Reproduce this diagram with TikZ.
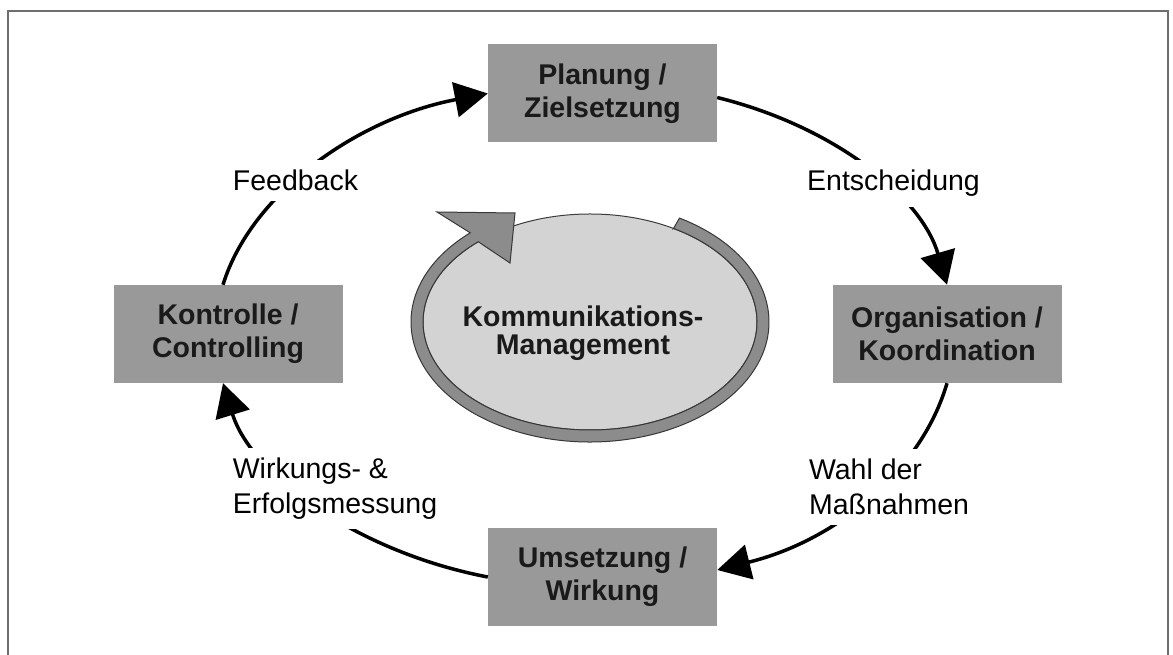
\documentclass[tikz,border=0pt]{standalone}
\usepackage{fontspec}
\setmainfont{Liberation Sans}
\usetikzlibrary{arrows.meta,calc}
\definecolor{boxgray}{RGB}{153,153,153}
\definecolor{ringgray}{RGB}{140,140,140}
\definecolor{ringline}{RGB}{55,55,55}
\definecolor{ellgray}{RGB}{211,211,211}
\definecolor{ellline}{RGB}{60,60,60}
\definecolor{framegray}{RGB}{110,110,110}
\definecolor{txt}{RGB}{26,26,26}
\begin{document}
\begin{tikzpicture}[x=1pt,y=1pt,
  stagebox/.style={fill=boxgray, minimum width=229pt, minimum height=98pt, inner sep=0pt,
    align=center, font=\fontsize{28.5}{33}\selectfont\bfseries, text=txt},
  cyclearrow/.style={line width=3.5pt, -{Triangle[length=33pt,width=35pt]}},
  steplabel/.style={fill=white, inner xsep=4pt, inner ysep=10pt,
    font=\fontsize{28.5}{35}\selectfont, text=black, align=left},
  ringstyle/.style={fill=ringgray, draw=ringline, line width=1pt, line join=miter},
  centertext/.style={align=center, font=\fontsize{28.5}{28.5}\selectfont\bfseries, text=txt}
]
\useasboundingbox (0,0) rectangle (1173,655);
\begin{scope}
  \clip (0,0) rectangle (1173,655);
  \draw[framegray, line width=2.5pt] (8,-10) -- (8,644) -- (1168,644) -- (1168,-10);
\end{scope}

% central ellipse and circular arrow
\coordinate (ec) at (590,333);
\draw[fill=ellgray, draw=ellline, line width=1pt] (ec) ellipse [x radius=167, y radius=108];
\draw[ringstyle] (673.5,426.53) -- (679.5,436.92)
  arc[start angle=60, end angle=-228, x radius=179, y radius=120]
  -- (437,443) -- (515,442) -- (510,392) -- (478.26,413.26)
  arc[start angle=-228, end angle=60, x radius=167, y radius=108] -- cycle;
\node[centertext] (km) at (583,322) {Kommunikations-\\Management};

% stage boxes
\node[stagebox] (plan) at (602.5,561.5) {Planung /\\Zielsetzung};
\node[stagebox] (org)  at (947,321)     {Organisation /\\Koordination};
\node[stagebox] (ums)  at (602.5,78)    {Umsetzung /\\Wirkung};
\node[stagebox] (kon)  at (228,321)     {Kontrolle /\\Controlling};

% cycle arrows
\draw[cyclearrow] ([xshift=-5pt]kon.north) .. controls +(28,91) and +(-131,-25) .. (plan.west);
\draw[cyclearrow] ([yshift=-4pt]plan.east) .. controls +(121,-30) and +(-25,86) .. (org.north);
\draw[cyclearrow] (org.south) .. controls +(-25,-86) and +(121,30) .. ([yshift=7pt]ums.east);
\draw[cyclearrow] (ums.west) .. controls +(-131,25) and +(28,-91) .. ([xshift=-5pt]kon.south);

% labels
\node[steplabel, anchor=base] (fb)  at (295.5,464) {Feedback};
\node[steplabel, anchor=base] (ent) at (893.5,464) {Entscheidung};
\node[steplabel] (wahl) at (889,167.7) {Wahl der\\Maßnahmen};
\node[steplabel] (wirk) at (335,166.7) {Wirkungs- \&\\Erfolgsmessung};
\end{tikzpicture}
\end{document}
